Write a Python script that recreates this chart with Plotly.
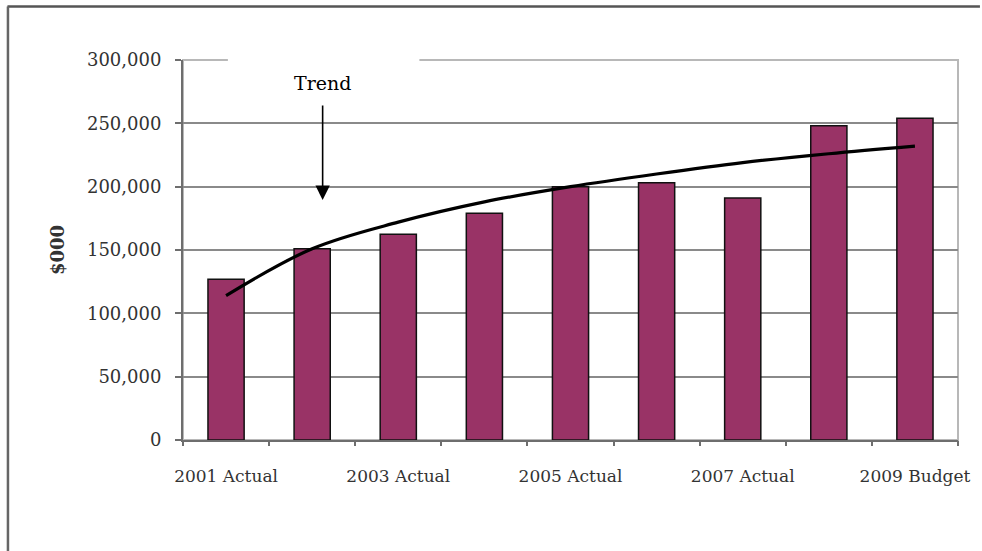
import plotly.graph_objects as go

categories = ["2001 Actual", "2002 Actual", "2003 Actual", "2004 Actual", "2005 Actual",
              "2006 Actual", "2007 Actual", "2008 Actual", "2009 Budget"]
values = [127000, 151000, 162500, 179000, 200000, 203000, 191000, 248000, 254000]
trend = [114000, 151000, 172000, 188000, 200000, 210000, 219000, 226000, 232000]
shown_labels = categories[::2]
y_ticks = [0, 50000, 100000, 150000, 200000, 250000, 300000]

W, H = 982, 551
L, R, T, B = 183, 22, 60, 111
PW, PH = W - L - R, H - T - B

def px_x(px):
    return (px - L) / PW

def px_y(py):
    return (H - B - py) / PH

fig = go.Figure()
fig.add_trace(go.Bar(
    x=categories, y=values,
    marker=dict(color="#993366", line=dict(color="#111111", width=1.5)),
    showlegend=False, hoverinfo="x+y",
))
fig.add_trace(go.Scatter(
    x=categories, y=trend, mode="lines",
    line=dict(color="#000000", width=3.2, shape="spline", smoothing=1.0),
    showlegend=False, name="Trend",
))
fig.add_trace(go.Scatter(x=[None], y=[None], xaxis="x2", showlegend=False, hoverinfo="skip"))

x_font = dict(family="DejaVu Serif", size=17, color="#333333")
y_font = dict(family="DejaVu Serif", size=18, color="#333333")

fig.update_layout(
    width=W, height=H,
    margin=dict(l=L, r=R, t=T, b=B),
    paper_bgcolor="white", plot_bgcolor="white",
    bargap=0.58,
    xaxis=dict(
        type="category",
        tickmode="array", tickvals=shown_labels, ticktext=shown_labels,
        ticks="", tickfont=x_font,
        showline=True, linecolor="#6e6e6e", linewidth=2,
        showgrid=False, zeroline=False,
        ticklabelstandoff=20,
    ),
    xaxis2=dict(
        overlaying="x", range=[-0.5, 8.5],
        tickmode="array", tickvals=[i - 0.5 for i in range(len(categories) + 1)],
        ticks="outside", ticklen=5, tickwidth=1.5, tickcolor="#6e6e6e",
        showticklabels=False, showgrid=False, zeroline=False, showline=False,
        anchor="y", side="bottom",
    ),
    yaxis=dict(
        range=[0, 300000], tickmode="array", tickvals=y_ticks,
        tickformat=",", tickfont=y_font,
        ticks="outside", ticklen=6, tickwidth=1.5, tickcolor="#6e6e6e",
        showline=True, linecolor="#6e6e6e", linewidth=2,
        showgrid=True, gridcolor="#8a8a8a", gridwidth=1.5,
        zeroline=False,
        ticklabelstandoff=10,
        title=dict(text="<b>$000</b>", font=dict(family="DejaVu Serif", size=18, color="#333333"),
                   standoff=18),
    ),
    shapes=[
        dict(type="rect", xref="paper", yref="paper", x0=0, x1=1, y0=0, y1=1,
             line=dict(color="#b8b8b8", width=2), fillcolor="rgba(0,0,0,0)", layer="below"),
        dict(type="rect", xref="paper", yref="paper",
             x0=px_x(228), x1=px_x(420), y0=px_y(64), y1=px_y(55),
             line=dict(width=0), fillcolor="white", layer="above"),
        dict(type="line", xref="paper", yref="paper",
             x0=px_x(7), x1=px_x(982), y0=px_y(6.5), y1=px_y(6.5),
             line=dict(color="#555555", width=2.5)),
        dict(type="line", xref="paper", yref="paper",
             x0=px_x(7.5), x1=px_x(7.5), y0=px_y(6.5), y1=px_y(551),
             line=dict(color="#666666", width=2.5)),
    ],
    annotations=[
        dict(text="Trend", xref="paper", yref="paper", x=px_x(323), y=px_y(83),
             showarrow=False, font=dict(family="DejaVu Serif", size=19, color="#000000"),
             xanchor="center", yanchor="middle"),
        dict(text="", xref="paper", yref="paper", x=px_x(323), y=px_y(200),
             ax=0, ay=-96, axref="pixel", ayref="pixel",
             showarrow=True, arrowhead=2, arrowsize=1.8, arrowwidth=1.6, arrowcolor="#000000"),
    ],
)

fig.write_html("out.html", config={"displayModeBar": False},
               post_script="document.body.style.margin='0';document.body.style.overflow='hidden';")
